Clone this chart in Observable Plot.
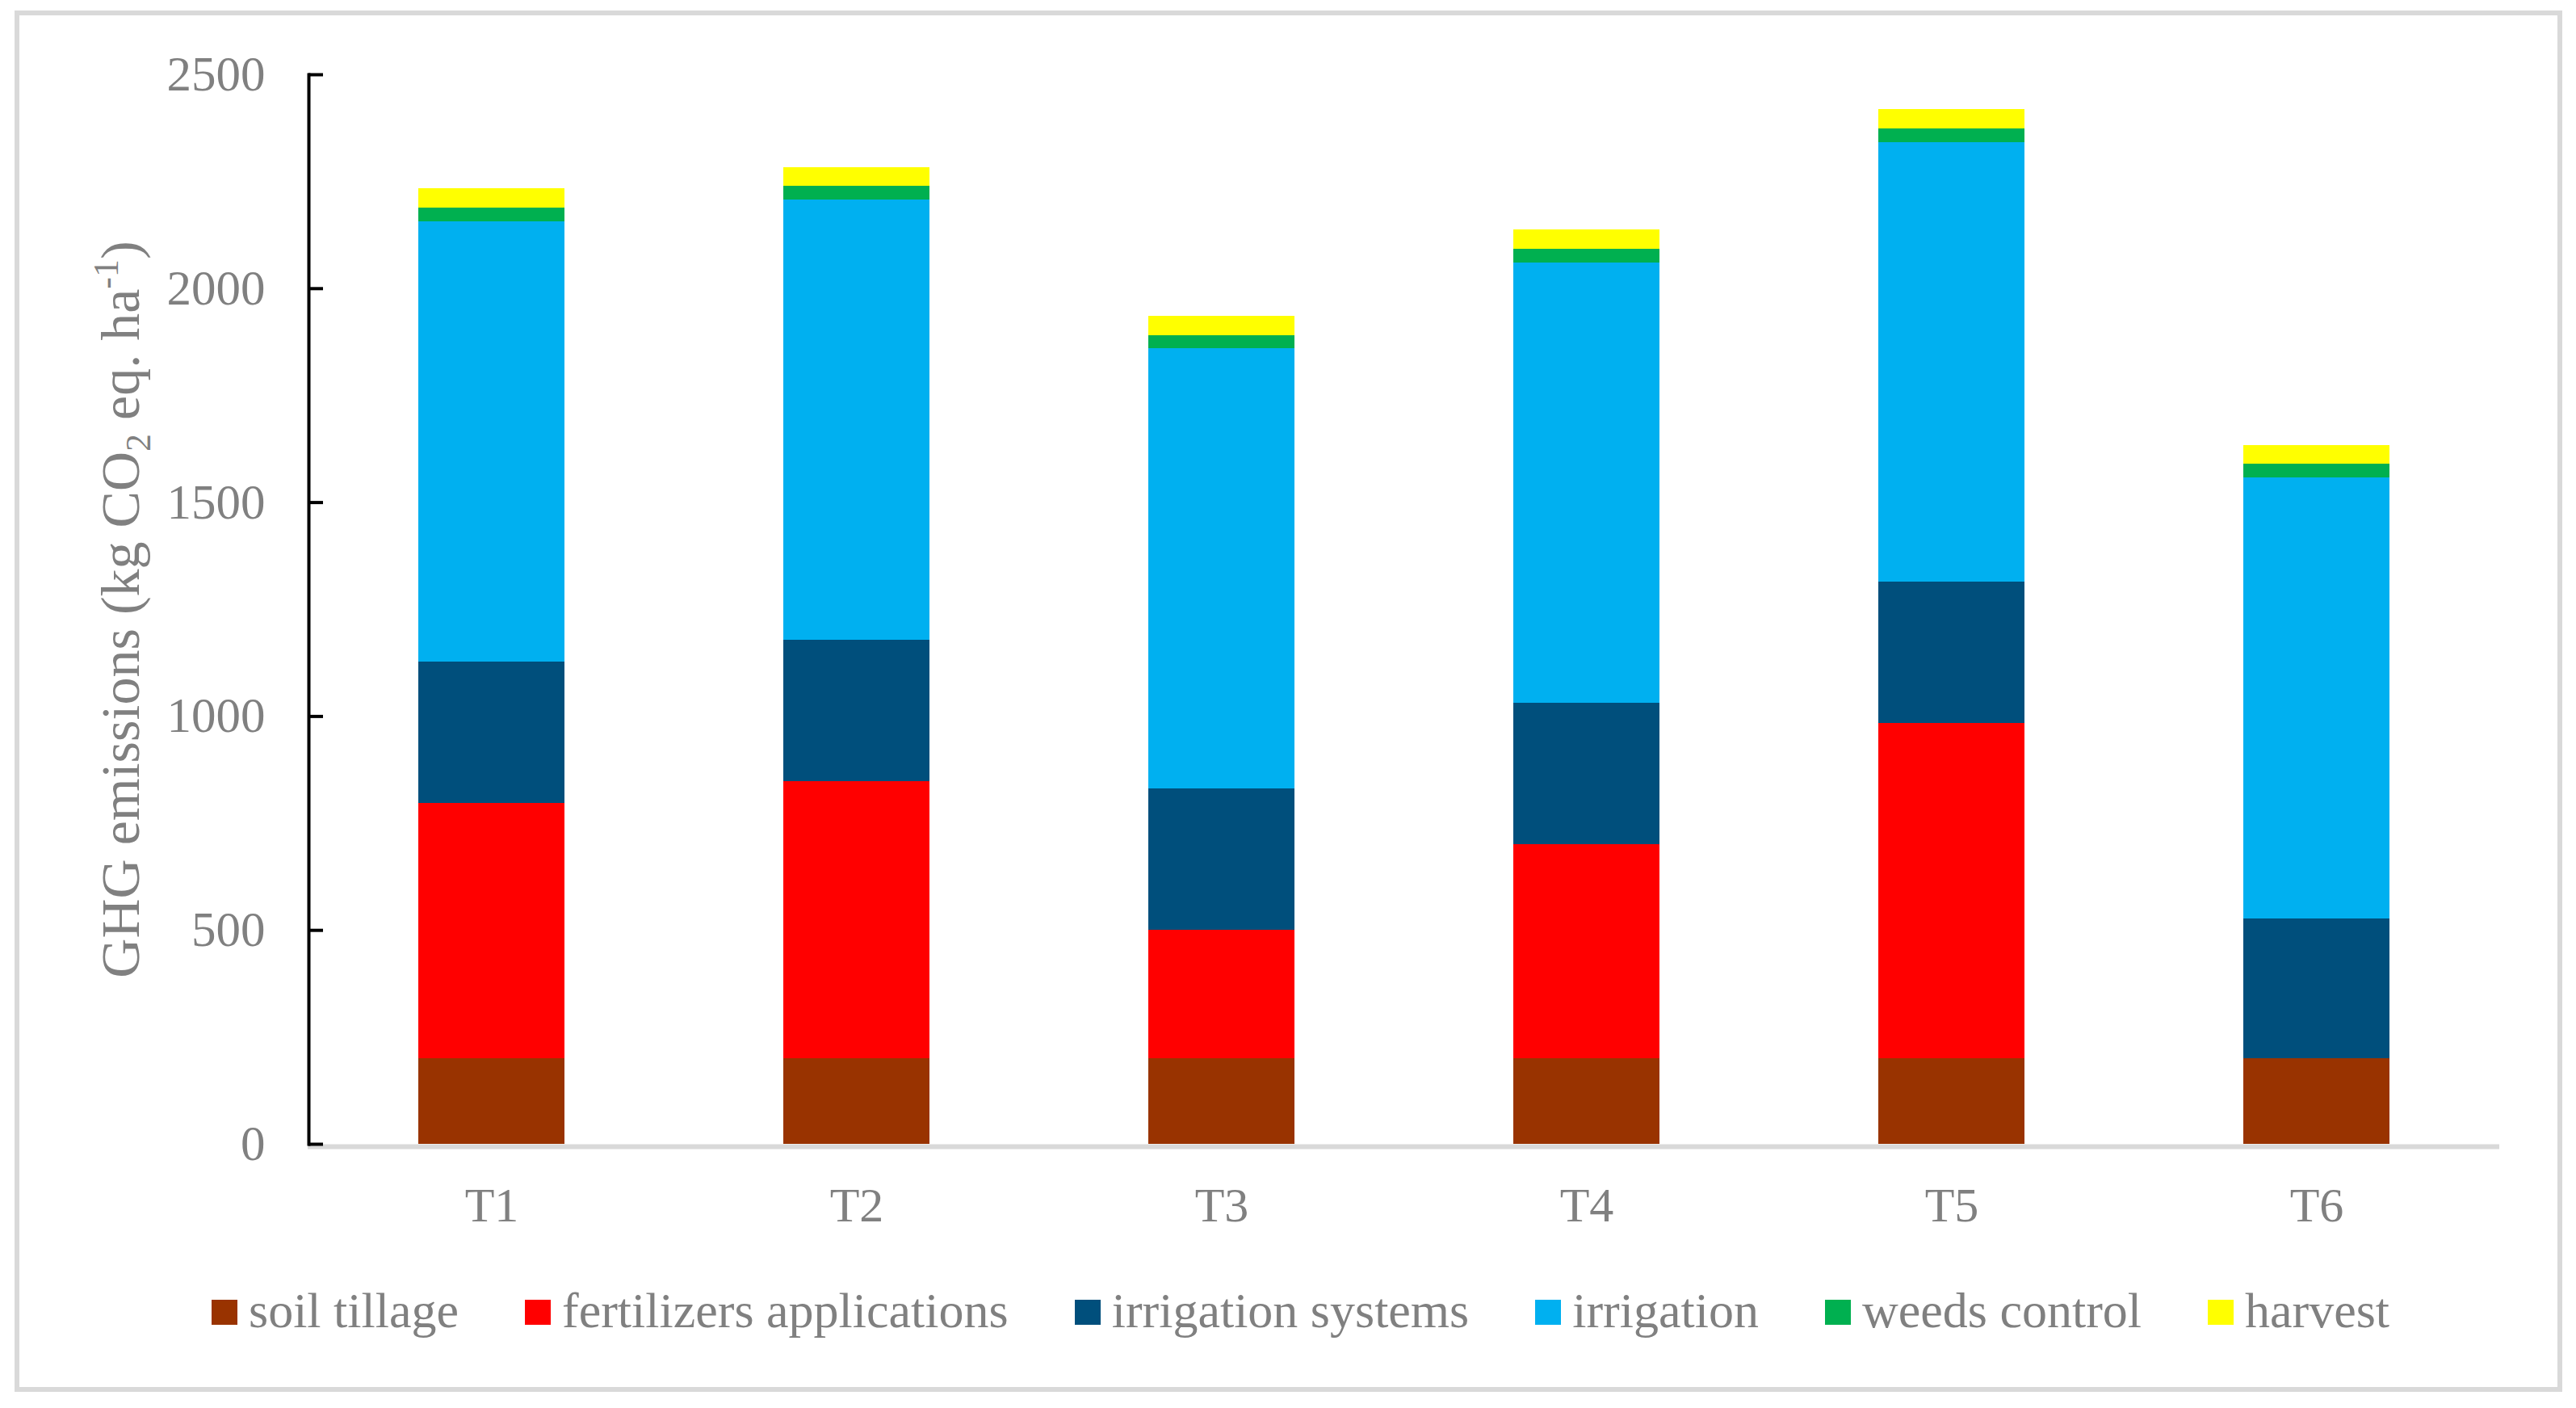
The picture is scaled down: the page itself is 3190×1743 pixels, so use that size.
<!DOCTYPE html>
<html>
<head>
<meta charset="utf-8">
<script src="https://cdn.jsdelivr.net/npm/d3@7"></script>
<script src="https://cdn.jsdelivr.net/npm/@observablehq/plot@0.6"></script>
<style>
  html, body { margin: 0; padding: 0; background: #fff; }
  body { width: 3190px; height: 1743px; position: relative; overflow: hidden; font-family: "Liberation Serif", "Times New Roman", serif; }
  #frame { position: absolute; left: 18px; top: 13px; width: 3155px; height: 1710px; box-sizing: border-box; border: 6px solid #d9d9d9; }
  #chart { position: absolute; left: 0; top: 0; }
  #legend { position: absolute; left: 262px; top: 1591px; display: flex; align-items: center; font-size: 62px; line-height: 1; color: #808080; white-space: nowrap; }
  .item { display: flex; align-items: center; margin-right: 82px; }
  .sw { width: 32px; height: 31px; margin-right: 14px; transform: translateY(2px); }
</style>
</head>
<body>
<div id="frame"></div>
<div id="chart"></div>
<div id="legend"></div>
<script>
const treatments = ["T1", "T2", "T3", "T4", "T5", "T6"];
const categories = ["soil tillage", "fertilizers applications", "irrigation systems", "irrigation", "weeds control", "harvest"];
const soilTillage = [200, 200, 200, 200, 200, 200];
const fertilizers = [597, 648, 300, 500, 783, 0];
const irrigationSystems = [330, 331, 330, 331, 331, 327];
const irrigation = [1030, 1028, 1030, 1029, 1027, 1031];
const weedsControl = [31, 32, 31, 32, 32, 32];
const harvest = [46, 44, 44, 45, 46, 43];
const yTicks = [0, 500, 1000, 1500, 2000, 2500];
const yTitle = "GHG emissions (kg CO2 eq. ha-1)";

const colors = ["#993300", "#ff0000", "#004f7c", "#00b0f0", "#00b050", "#ffff00"];

const series = [soilTillage, fertilizers, irrigationSystems, irrigation, weedsControl, harvest];
const rows = categories.flatMap((c, i) => treatments.map((t, j) => ({treatment: t, category: c, value: series[i][j]})));

const textColor = "#808080";

const plot = Plot.plot({
  width: 3190,
  height: 1540,
  marginLeft: 381,
  marginRight: 95,
  marginTop: 92,
  marginBottom: 124,
  style: {fontFamily: "'Liberation Serif', 'Times New Roman', serif", background: "transparent", overflow: "visible"},
  x: {domain: treatments, paddingInner: 0.6, paddingOuter: 0.3, axis: null},
  y: {domain: [0, 2500], axis: null},
  color: {domain: categories, range: colors},
  marks: [
    Plot.barY(rows, {x: "treatment", y: "value", fill: "category", order: categories, shapeRendering: "crispEdges"}),
    Plot.ruleY([0], {stroke: "#d9d9d9", strokeWidth: 6, dy: 3}),
    Plot.frame({anchor: "left", stroke: "black", strokeWidth: 4, dx: 1}),
    Plot.axisY(yTicks, {tickSize: 18, dx: 19, stroke: "black", strokeWidth: 4, tickFormat: () => "", label: null}),
    Plot.axisY(yTicks, {tickSize: 0, tickPadding: 53, fontSize: 61, fill: textColor, tickFormat: "d", label: null}),
    Plot.axisX({tickSize: 0, tickPadding: 53, fontSize: 60, fill: textColor, label: null}),
    Plot.text([yTitle], {frameAnchor: "left", textAnchor: "middle", dx: -231, rotate: -90, fontSize: 68, fill: textColor, text: d => d, className: "ytitle"})
  ]
});
document.getElementById("chart").appendChild(plot);

// rich text for the y-axis title (subscript 2, superscript -1)
const t = plot.querySelector(".ytitle text");
if (t) {
  t.textContent = "";
  t.setAttribute("text-anchor", "middle");
  const ns = "http://www.w3.org/2000/svg";
  const parts = [
    {s: "GHG emissions (kg CO"},
    {s: "2", size: 44, dy: 14},
    {s: " eq. ha", dy: -14},
    {s: "-1", size: 44, dy: -26},
    {s: ")", dy: 26}
  ];
  for (const p of parts) {
    const ts = document.createElementNS(ns, "tspan");
    ts.textContent = p.s;
    if (p.size) ts.setAttribute("font-size", p.size);
    if (p.dy) ts.setAttribute("dy", p.dy);
    t.appendChild(ts);
  }
}

// legend
const legend = document.getElementById("legend");
categories.forEach((c, i) => {
  const item = document.createElement("div");
  item.className = "item";
  if (i === categories.length - 1) item.style.marginRight = "0";
  const sw = document.createElement("div");
  sw.className = "sw";
  sw.style.background = colors[i];
  const lab = document.createElement("span");
  lab.textContent = c;
  item.appendChild(sw);
  item.appendChild(lab);
  legend.appendChild(item);
});
</script>
</body>
</html>
